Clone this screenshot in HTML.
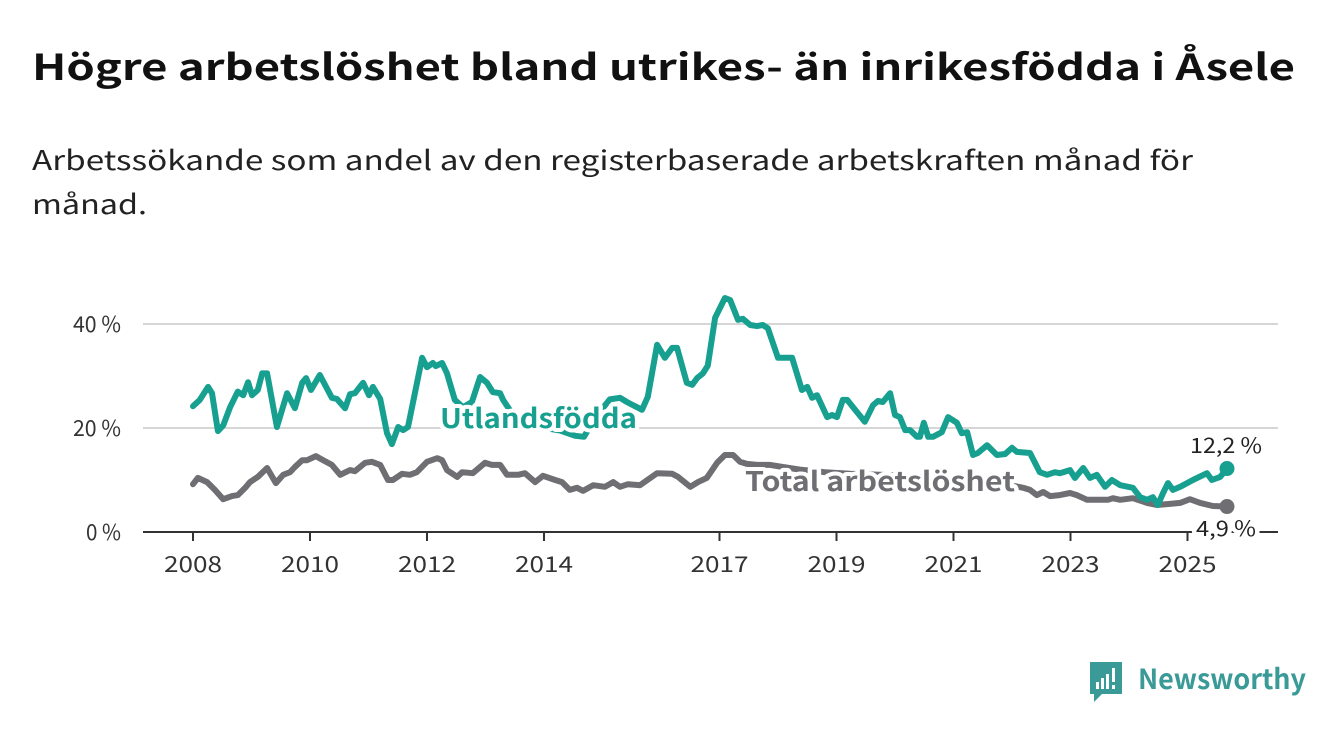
<!DOCTYPE html>
<html><head><meta charset="utf-8">
<style>
html,body{margin:0;padding:0;background:#fff;}
svg{display:block;font-family:"Noto Sans CJK SC","Liberation Sans",sans-serif;}
</style></head>
<body>
<svg id="chart" width="1340" height="734" viewBox="0 0 1340 734" xmlns="http://www.w3.org/2000/svg">
  <text x="32" y="80" font-size="36" font-weight="bold" fill="#111" textLength="1263" lengthAdjust="spacingAndGlyphs">Högre arbetslöshet bland utrikes- än inrikesfödda i Åsele</text>
  <text x="32" y="170" font-size="27" fill="#222" textLength="1161" lengthAdjust="spacingAndGlyphs">Arbetssökande som andel av den registerbaserade arbetskraften månad för</text>
  <text x="32" y="214" font-size="27" fill="#222" textLength="115" lengthAdjust="spacingAndGlyphs">månad.</text>
  <g id="grid"></g>
  <g id="axes"></g>
  <g id="series"></g>
  <g id="labels"></g>
  <g>
    <path d="M1090 662 h32 v32 h-20 l-8 8 v-8 h-4 z" fill="#3a9a98"/>
    <rect x="1096" y="682" width="3" height="7" fill="#fff"/>
    <rect x="1101" y="678" width="3" height="11" fill="#fff"/>
    <rect x="1106" y="674" width="3" height="15" fill="#fff"/>
    <rect x="1112" y="668" width="3" height="14" fill="#fff"/>
    <rect x="1112" y="685" width="3" height="4" fill="#fff"/>
    <text x="1138" y="689" font-size="28" font-weight="bold" fill="#3a9a98" textLength="168" lengthAdjust="spacingAndGlyphs">Newsworthy</text>
  </g>
</svg>
<script>
// months since Jan 2008
const foreignMonths = [0,1.4,3.1,3.9,5.1,6.2,7.6,9.2,10.3,11.3,12.1,13.3,14.2,15.2,17.2,19.3,20.9,22.4,23.2,24.2,26,28.5,29.5,31.2,32.2,33.2,34.9,36.1,36.9,38.4,39.8,40.8,42.1,43.1,44.1,47,48,49.2,49.8,51.1,52.1,53.7,55.4,57.2,58.9,60.3,61.5,63,63.6,66,69,72.2,75.3,78.4,80.2,82.5,85.5,87.6,89,92.1,93.3,95.2,96.8,98.3,99.3,101.3,102.4,103.4,104.6,105.6,107.1,109.1,110.2,111.8,112.8,114.3,115.7,116.9,117.9,120,122.9,124.9,126,127,128,130.1,131.1,132.1,133.3,134.2,135.4,137.8,139.5,140.5,141.5,143,144,145,146.1,147.1,148.5,149.1,149.9,150.8,151.8,153.6,154.9,156.7,157.7,158.8,160,161,162.9,164.9,166.6,168,169,171.7,173.7,175.2,176.8,177.8,179.9,180.9,182.6,184,185.4,187.1,188.5,190.2,192.8,194.3,195.7,196.9,197.9,199,200,201,202.5,205.1,208,209,210.7,212.1];
const foreignValues = [24.2,25.4,27.9,26.7,19.4,20.5,24,27,26.3,28.8,26.3,27.3,30.5,30.5,20.2,26.7,23.8,28.7,29.6,27.3,30.2,25.8,25.6,23.8,26.5,26.7,28.7,26.3,27.9,25.6,19,16.9,20.2,19.6,20.2,33.5,31.7,32.5,31.9,32.5,30.5,25.4,24,25,29.8,28.7,26.9,26.7,25.4,22,21,20,19.5,18.5,18.3,22,25.5,25.8,25,23.5,26,36,33.5,35.4,35.4,28.7,28.3,29.6,30.5,32,41.2,45,44.6,40.8,41,39.8,39.6,39.8,39.2,33.5,33.5,27.3,27.9,25.8,26.3,22.1,22.5,22.1,25.4,25.4,24,21.2,24.4,25.2,25,26.7,22.5,22.1,19.6,19.6,18.3,18.3,21,18.3,18.3,19.2,22.1,21,19,19.2,14.8,15.2,16.7,14.8,15,16.2,15.4,15.2,11.5,11,11.5,11.3,11.9,10.4,12.3,10.4,11,8.7,10,9,8.5,6.7,6.2,6.7,5.2,7.5,9.4,8.1,8.7,10,11.3,10,10.6,12.2];
const totalMonths = [0,1,2.9,4.5,6.2,8,9.2,10.7,11.7,13.3,15.2,17,18.5,19.9,20.9,22.4,23.4,25.2,26.7,28.5,30.2,32.2,33.2,35.3,36.7,38.4,40,41,42.9,44.5,45.9,48,50.1,51.1,52.1,54.2,55.2,57.4,59.9,61.3,63,64.4,66.7,68.1,70.2,71.8,74.3,75.7,77.3,78.8,80,82.1,84.5,86.2,87.6,89.2,91.7,95.2,98.3,99.5,102,103.6,105.4,107.5,109.1,110.8,112.2,113.6,115.7,118.4,121,124.5,129.6,134.8,140.9,147.1,153.2,159.4,165.5,170.3,171.7,173.1,174.4,175.8,177.8,179.9,181.3,183.4,186.1,187.7,188.7,190.2,192.8,195.7,197.7,200.4,202.5,204.5,206.6,209.2,212.1];
const totalValues = [9.2,10.4,9.6,8.1,6.3,6.9,7.1,8.5,9.6,10.6,12.3,9.4,11,11.5,12.5,13.8,13.8,14.6,13.8,12.9,11,11.9,11.7,13.3,13.5,12.9,10,10,11.2,11,11.5,13.5,14.2,13.8,11.9,10.6,11.5,11.3,13.3,12.9,12.9,11,11,11.3,9.6,10.8,10,9.6,8.1,8.5,7.9,9,8.7,9.6,8.7,9.2,9,11.3,11.2,10.6,8.7,9.6,10.4,13.3,14.8,14.8,13.5,13.1,12.9,12.9,12.5,12,11.5,11.2,11,10.8,10.4,10,9.4,8.5,8.1,7.1,7.7,6.9,7.1,7.5,7.1,6.2,6.2,6.2,6.5,6.2,6.5,5.6,5.2,5.4,5.6,6.3,5.6,5,4.9];
const yTicks = [0,20,40];
const yTickLabels = ["0 %","20 %","40 %"];
const xTickYears = [2008,2010,2012,2014,2017,2019,2021,2023,2025];

const NS="http://www.w3.org/2000/svg";
const xMonth = m => 193 + m*4.875;
const xYear = y => xMonth((y-2008)*12);
const yVal = v => 532 - v*5.2;
function mk(tag, attrs, parent){const e=document.createElementNS(NS,tag);for(const k in attrs)e.setAttribute(k,attrs[k]);parent.appendChild(e);return e;}
const grid=document.getElementById('grid'), axes=document.getElementById('axes'), series=document.getElementById('series'), labels=document.getElementById('labels');

yTicks.forEach((t,i)=>{
  if(t>0){
    const l=mk('line',{x1:143,x2:1278,y1:yVal(t),y2:yVal(t),stroke:'#d6d6d6','stroke-width':2},grid);
    
    
  }
  const tx=mk('text',{x:121,y:yVal(t)+8,'font-size':22,fill:'#333','text-anchor':'end',textLength:(yTickLabels[i].length-2)*13+22,lengthAdjust:'spacingAndGlyphs'},axes);
  tx.textContent=yTickLabels[i];
  
  
});
const base=mk('line',{x1:143,x2:1278,y1:532,y2:532,stroke:'#333','stroke-width':2},axes);


xTickYears.forEach(yr=>{
  const x=xYear(yr);
  const tk=mk('line',{x1:x,x2:x,y1:532,y2:541,stroke:'#333','stroke-width':2},axes);
  
  
  const tx=mk('text',{x:x,y:572,'font-size':22,fill:'#333','text-anchor':'middle',textLength:58,lengthAdjust:'spacingAndGlyphs'},axes);
  tx.textContent=yr;
  
  
});

function drawLine(ms,vs,color,name){
  const d=ms.map((m,i)=>(i?'L':'M')+xMonth(m).toFixed(1)+' '+yVal(vs[i]).toFixed(1)).join(' ');
  const p=mk('path',{d:d,fill:'none',stroke:color,'stroke-width':6,'stroke-linejoin':'round','stroke-linecap':'round'},series);
  
  
  const n=ms.length-1;
  const c=mk('circle',{cx:xMonth(ms[n]),cy:yVal(vs[n]),r:7.5,fill:color},series);
  
  
}
drawLine(totalMonths,totalValues,'#6e6e73','total');
drawLine(foreignMonths,foreignValues,'#17a090','foreign');

function label(txt,x,y,size,color,weight,name,anchor,len){
  const t=mk('text',{x:x,y:y,'font-size':size,fill:color,'font-weight':weight,stroke:'#fff','stroke-width':8,'paint-order':'stroke','stroke-linejoin':'round','text-anchor':anchor||'start',textLength:len,lengthAdjust:'spacingAndGlyphs'},labels);
  t.textContent=txt;
  
  
}
label('Utlandsfödda',440,428,27,'#17a090','bold','series-label-foreign','start',197);
label('Total arbetslöshet',745,491,27,'#6e6e73','bold','series-label-total','start',270);
label('12,2 %',1226,453,21,'#222','normal','end-value-foreign','middle',72);
label('4,9 %',1226,536,21,'#222','normal','end-value-total','middle',60);
</script>
</body></html>
